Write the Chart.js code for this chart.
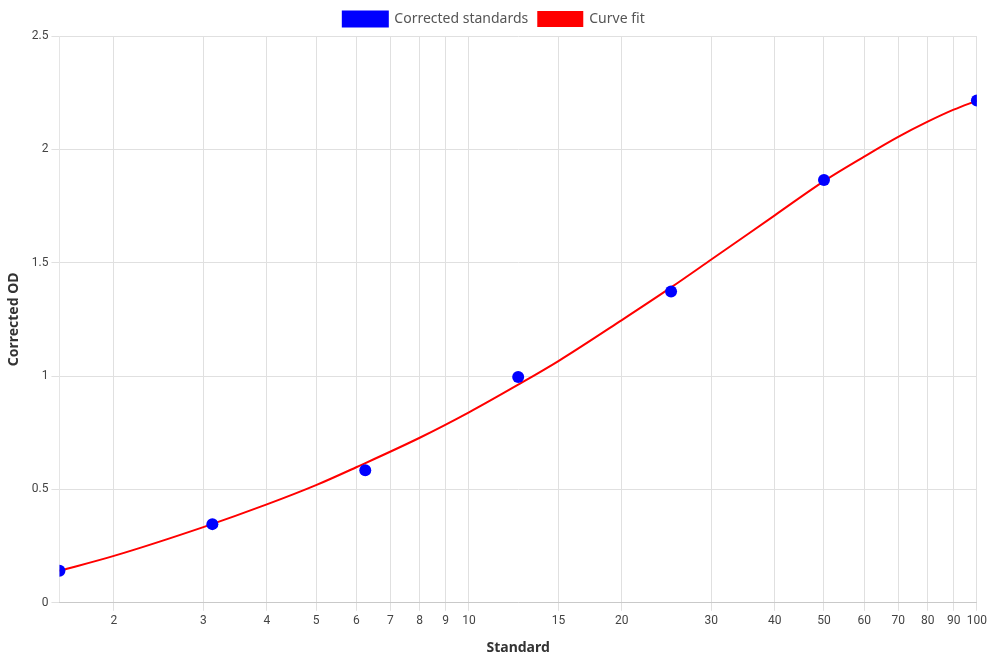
<!DOCTYPE html>
<html>
<head>
<meta charset="utf-8">
<script src="https://cdn.jsdelivr.net/npm/chart.js@4/dist/chart.umd.min.js"></script>
<style>
    body { margin: 0; background: #fff; }
    #wrap { width: 990px; height: 660px; position: relative; }
</style>
</head>
<body>
<div id="wrap"><canvas id="std-chart"></canvas></div>
<script>
// Standards (x) and their corrected OD (y)
const standards = [1.5625, 3.125, 6.25, 12.5, 25, 50, 100];
const correctedOD = [0.141, 0.347, 0.585, 0.996, 1.373, 1.865, 2.215];

// Curve fit
const fitX = [1.5625, 2, 3, 4, 5, 6, 8, 10, 12.5, 15, 20, 25, 30, 40, 50, 60, 70, 80, 90, 100];
const fitY = [0.141, 0.207, 0.334, 0.434, 0.519, 0.598, 0.728, 0.840, 0.962, 1.066, 1.247, 1.391, 1.514, 1.709, 1.860, 1.968, 2.055, 2.122, 2.175, 2.215];

// Tick labels
const xTicks = [2, 3, 4, 5, 6, 7, 8, 9, 10, 15, 20, 30, 40, 50, 60, 70, 80, 90, 100];
const yTicks = [0, 0.5, 1, 1.5, 2, 2.5];

const toPoints = (xs, ys) => xs.map((x, i) => ({x, y: ys[i]}));

const titleFont = {family: "'Noto Sans', sans-serif", size: 14, weight: 'bold'};

const main = () => {
    Chart.defaults.font.family = "Roboto, sans-serif";
    Chart.defaults.color = "#444";

    const config = {
        type: "line",
        data: {
            datasets: [
                {
                    label: "Corrected standards",
                    data: toPoints(standards, correctedOD),
                    backgroundColor: "#0000ff",
                    borderColor: "#0000ff",
                    showLine: false,
                    pointRadius: 6,
                    pointHoverRadius: 6,
                    pointBorderWidth: 0
                },
                {
                    label: "Curve fit",
                    data: toPoints(fitX, fitY),
                    backgroundColor: "#ff0000",
                    borderColor: "#ff0000",
                    borderWidth: 2,
                    pointRadius: 0,
                    cubicInterpolationMode: "monotone"
                }
            ]
        },
        options: {
            responsive: true,
            maintainAspectRatio: false,
            animation: false,
            layout: {padding: {left: 2, right: 4, top: 2, bottom: 4}},
            plugins: {
                legend: {
                    position: "top",
                    labels: {
                        boxWidth: 44,
                        boxHeight: 14,
                        font: {family: "'Noto Sans', sans-serif", size: 14},
                        color: "#555"
                    }
                },
                tooltip: {enabled: false}
            },
            scales: {
                x: {
                    type: "logarithmic",
                    min: 1.5625,
                    max: 100,
                    afterBuildTicks: (scale) => {
                        scale.ticks = xTicks.map(v => ({value: v}));
                    },
                    title: {
                        display: true,
                        text: "Standard",
                        font: titleFont,
                        color: "#333",
                        padding: {top: 8, bottom: 0}
                    },
                    ticks: {
                        autoSkip: false,
                        maxRotation: 0,
                        font: {size: 12},
                        callback: (v) => String(v)
                    },
                    grid: {color: "#e0e0e0"}
                },
                y: {
                    min: 0,
                    max: 2.5,
                    afterBuildTicks: (scale) => {
                        scale.ticks = yTicks.map(v => ({value: v}));
                    },
                    ticks: {font: {size: 12}, callback: (v) => String(v)},
                    title: {
                        display: true,
                        text: "Corrected OD",
                        font: titleFont,
                        color: "#333",
                        padding: {top: 4, bottom: 6}
                    },
                    grid: {color: "#e0e0e0"}
                }
            }
        }
    };

    new Chart(document.getElementById("std-chart"), config);
};

main();
</script>
</body>
</html>
